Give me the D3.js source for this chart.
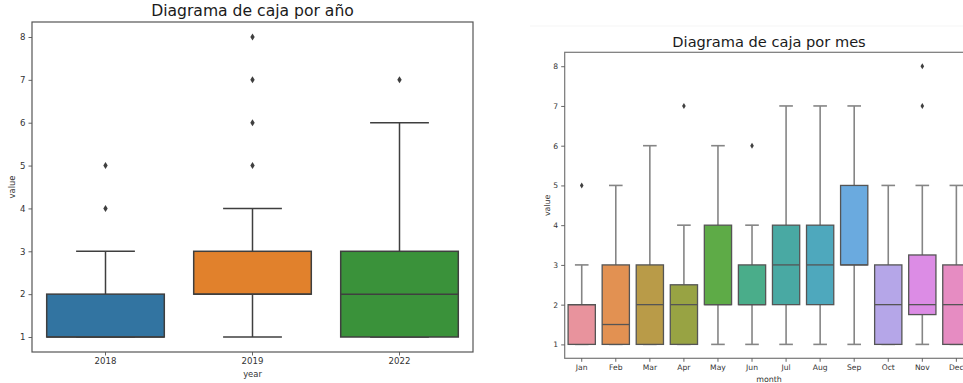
<!DOCTYPE html>
<html>
<head>
<meta charset="utf-8">
<script src="https://cdn.jsdelivr.net/npm/d3@7"></script>
<style>
  body { margin: 0; background: #fff; }
  svg { display: block; font-family: "DejaVu Sans", sans-serif; }
</style>
</head>
<body>
<svg id="chart" width="963" height="383"></svg>
<script>
// Yearly boxes
const years = ['2018', '2019', '2022'];
const yearLow = [1, 1, 1];
const yearQ1 = [1, 2, 1];
const yearMedian = [1, 2, 2];
const yearQ3 = [2, 3, 3];
const yearHigh = [3, 4, 6];
const yearOutliers = [[4, 5], [5, 6, 7, 8], [7]];
const yearColors = ['#3274a1', '#e1812c', '#3a923a'];

// Monthly boxes
const months = ['Jan', 'Feb', 'Mar', 'Apr', 'May', 'Jun', 'Jul', 'Aug', 'Sep', 'Oct', 'Nov', 'Dec'];
const monthLow = [1, 1, 1, 1, 1, 1, 1, 1, 1, 1, 1, 1];
const monthQ1 = [1, 1, 1, 1, 2, 2, 2, 2, 3, 1, 1.75, 1];
const monthMedian = [2, 1.5, 2, 2, 2, 2, 3, 3, 3, 2, 2, 2];
const monthQ3 = [2, 3, 3, 2.5, 4, 3, 4, 4, 5, 3, 3.25, 3];
const monthHigh = [3, 5, 6, 4, 6, 4, 7, 7, 7, 5, 5, 5];
const monthOutliers = [[5], [], [], [7], [], [6], [], [], [], [], [7, 8], []];
const monthColors = ['#e8939d', '#e29152', '#b99b48', '#98a343', '#5eab47', '#4aad8a',
  '#49a9a3', '#4ea8bd', '#6aaadf', '#b5a6e8', '#dc8ce5', '#e68cc2'];

const yTicks = [1, 2, 3, 4, 5, 6, 7, 8];

const svg = d3.select('#chart');

// faint strip at the top of the right panel
svg.append('line')
  .attr('x1', 530).attr('x2', 963).attr('y1', 26).attr('y2', 26)
  .attr('stroke', '#f5f5f5').attr('stroke-width', 1);

function boxPanel(opt) {
  const x = d3.scaleBand().domain(opt.cats).range([opt.left, opt.right]).padding(0);
  const y = d3.scaleLinear().domain([0.65, 8.35]).range([opt.bottom, opt.top]);
  const g = svg.append('g');
  const bw = x.bandwidth() * 0.8;

  opt.cats.forEach((c, i) => {
    const cx = x(c) + x.bandwidth() / 2;
    // whiskers
    g.append('line').attr('x1', cx).attr('x2', cx)
      .attr('y1', y(opt.low[i])).attr('y2', y(opt.q1[i]))
      .attr('stroke', opt.whisker).attr('stroke-width', opt.wlw);
    g.append('line').attr('x1', cx).attr('x2', cx)
      .attr('y1', y(opt.q3[i])).attr('y2', y(opt.high[i]))
      .attr('stroke', opt.whisker).attr('stroke-width', opt.wlw);
    [opt.low[i], opt.high[i]].forEach((v) => {
      g.append('line').attr('x1', cx - bw / 4).attr('x2', cx + bw / 4)
        .attr('y1', y(v)).attr('y2', y(v))
        .attr('stroke', opt.whisker).attr('stroke-width', opt.wlw);
    });
    // box
    g.append('rect')
      .attr('x', cx - bw / 2).attr('width', bw)
      .attr('y', y(opt.q3[i])).attr('height', y(opt.q1[i]) - y(opt.q3[i]))
      .attr('fill', opt.colors[i])
      .attr('stroke', opt.edge).attr('stroke-width', opt.lw);
    // median
    g.append('line').attr('x1', cx - bw / 2).attr('x2', cx + bw / 2)
      .attr('y1', y(opt.median[i])).attr('y2', y(opt.median[i]))
      .attr('stroke', opt.edge).attr('stroke-width', opt.lw);
    // outliers (thin diamonds)
    opt.outliers[i].forEach((v) => {
      const py = y(v);
      g.append('path')
        .attr('d', `M${cx},${py - opt.mh}L${cx + opt.mw},${py}L${cx},${py + opt.mh}L${cx - opt.mw},${py}Z`)
        .attr('fill', '#3f3f3f');
    });
  });

  // frame
  g.append('rect')
    .attr('x', opt.left).attr('y', opt.top)
    .attr('width', opt.right - opt.left).attr('height', opt.bottom - opt.top)
    .attr('fill', 'none').attr('stroke', opt.frame).attr('stroke-width', 1.2);

  // axes
  const ya = g.append('g').attr('transform', `translate(${opt.left},0)`)
    .call(d3.axisLeft(y).tickValues(yTicks).tickSize(3.5).tickPadding(3).tickFormat(d3.format('d')));
  const xa = g.append('g').attr('transform', `translate(0,${opt.bottom})`)
    .call(d3.axisBottom(x).tickSize(3.5).tickPadding(2.5));
  [ya, xa].forEach((a) => {
    a.select('.domain').remove();
    a.selectAll('line').attr('stroke', '#555').attr('stroke-width', 0.9);
    a.selectAll('text').attr('fill', '#333').style('font-size', `${opt.tickFont}px`)
      .style('font-family', '"DejaVu Sans", sans-serif');
  });

  g.append('text')
    .attr('x', (opt.left + opt.right) / 2).attr('y', opt.top - opt.titleGap)
    .attr('text-anchor', 'middle').attr('fill', '#1a1a1a')
    .style('font-size', `${opt.titleFont}px`)
    .text(opt.title);
  g.append('text')
    .attr('x', (opt.left + opt.right) / 2).attr('y', opt.xLabelY)
    .attr('text-anchor', 'middle').attr('fill', '#333')
    .style('font-size', `${opt.labelFont}px`)
    .text(opt.xLabel);
  g.append('text')
    .attr('transform', `translate(${opt.yLabelX},${(opt.top + opt.bottom) / 2}) rotate(-90)`)
    .attr('text-anchor', 'middle').attr('fill', '#333')
    .style('font-size', `${opt.labelFont}px`)
    .text('value');
}

boxPanel({
  cats: years, low: yearLow, q1: yearQ1, median: yearMedian, q3: yearQ3, high: yearHigh,
  outliers: yearOutliers, colors: yearColors,
  left: 32, right: 473, top: 22, bottom: 352,
  lw: 1.5, wlw: 1.5, edge: '#3f3f3f', whisker: '#3f3f3f', frame: '#555', mw: 2.2, mh: 3.5,
  tickFont: 8.6, labelFont: 8.4, titleFont: 15.6, titleGap: 6,
  title: 'Diagrama de caja por año', xLabel: 'year', xLabelY: 377, yLabelX: 15,
});

boxPanel({
  cats: months, low: monthLow, q1: monthQ1, median: monthMedian, q3: monthQ3, high: monthHigh,
  outliers: monthOutliers, colors: monthColors,
  left: 564.7, right: 973.4, top: 52.3, bottom: 358.3,
  lw: 1.3, wlw: 1.6, edge: '#555', whisker: '#858585', frame: '#777', mw: 1.8, mh: 3,
  tickFont: 7.6, labelFont: 7.9, titleFont: 14.6, titleGap: 5.5,
  title: 'Diagrama de caja por mes', xLabel: 'month', xLabelY: 381.5, yLabelX: 550,
});
</script>
</body>
</html>
